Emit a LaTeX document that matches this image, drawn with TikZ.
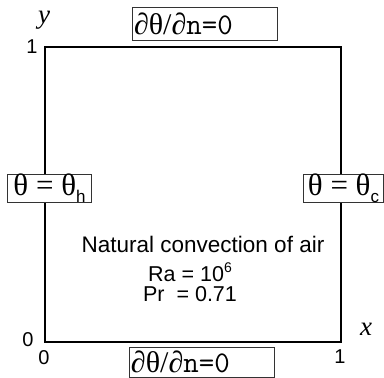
\documentclass[tikz,border=0pt]{standalone}
\usepackage{fontspec}
\setmainfont{Liberation Sans}
\newfontfamily\serifx{Liberation Serif}
\begin{document}
\begin{tikzpicture}[x=1pt,y=-1pt,
  bc/.style={draw=black!80, line width=0.8pt, fill=white, inner sep=0pt, minimum height=#1},
  lab/.style={inner sep=0pt, font=\fontsize{20}{20}\selectfont},
  txt/.style={inner sep=0pt, anchor=base, text height=0.72em, text depth=0pt, font=\fontsize{#1}{#1}\selectfont}]
\useasboundingbox (0,0) rectangle (384,378);
\coordinate (A) at (45,342);
\coordinate (B) at (341,342);
\coordinate (C) at (341,47);
\coordinate (D) at (45,47);
\draw[line width=1.6pt] (A) -- (B) -- (C) -- (D) -- cycle;
% boundary condition boxes
\node[bc=33pt, minimum width=145pt, text width=141pt, align=left] (top) at (204.5,23.5)
  {\fontsize{30}{30}\selectfont\serifx ∂θ/∂{\ttfamily n=0}};
\node[bc=30pt, minimum width=145pt, text width=141pt, align=left] (bot) at (201.5,362)
  {\fontsize{30}{30}\selectfont\serifx ∂θ/∂{\ttfamily n=0}};
\node[bc=27pt, minimum width=84pt] (left) at (49.5,188.5)
  {\fontsize{31}{31}\selectfont\serifx θ = θ\raisebox{-0.22em}{\fontsize{17}{17}\selectfont\normalfont h}};
\node[bc=27pt, minimum width=80pt] (right) at (343.5,188.5)
  {\fontsize{31}{31}\selectfont\serifx θ = θ\raisebox{-0.22em}{\fontsize{17}{17}\selectfont\normalfont c}};
% texts
\node[txt=22.5] (nat) at (203,252) {Natural convection of air};
\node[txt=21.5] (ra) at (190,281) {Ra = 10\raisebox{0.4em}{\fontsize{14}{14}\selectfont 6}};
\node[txt=21.5] (pr) at (190,301) {Pr\ \ = 0.71};
% axis labels
\node[inner sep=0pt, font=\fontsize{27}{27}\selectfont\serifx\itshape] (ylab) at (44,20) {y};
\node[inner sep=0pt, font=\fontsize{27}{27}\selectfont\serifx\itshape] (xlab) at (366,329) {x};
\node[lab] (y1) at (32,47) {1};
\node[lab] (y0) at (28,340) {0};
\node[lab] (x0) at (44,358) {0};
\node[lab] (x1) at (340,357) {1};
\end{tikzpicture}
\end{document}
